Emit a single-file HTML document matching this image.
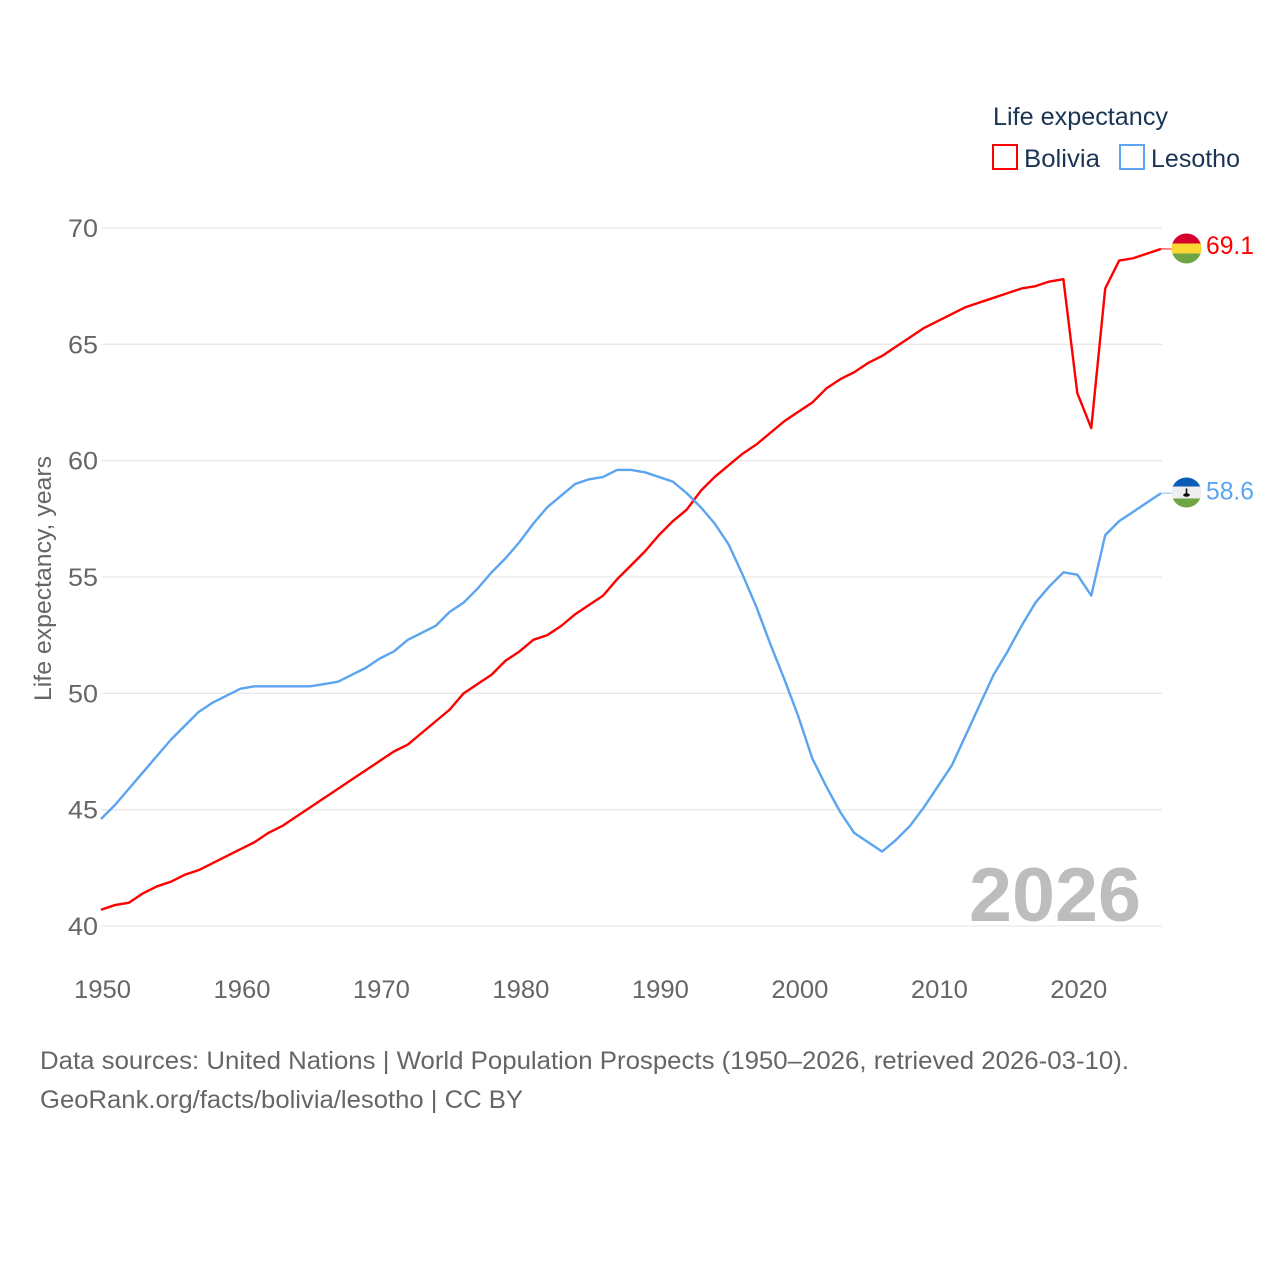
<!DOCTYPE html>
<html lang="en">
<head>
<meta charset="utf-8">
<title>Life expectancy: Bolivia and Lesotho</title>
<style>
html,body{margin:0;padding:0;background:#fff}
svg{display:block}
text{font-family:"Liberation Sans",sans-serif}
</style>
</head>
<body>
<svg id="chart" xmlns="http://www.w3.org/2000/svg" width="1280" height="1280" viewBox="0 0 1280 1280">
  <g id="grid"></g>
  <g id="yticks"></g>
  <g id="xticks"></g>
  <text transform="translate(51 701) rotate(-90)" font-size="24" fill="#666" textLength="245" lengthAdjust="spacingAndGlyphs">Life expectancy, years</text>
  <text x="969" y="921" font-size="76" font-weight="700" fill="#bdbdbd" textLength="172" lengthAdjust="spacingAndGlyphs">2026</text>
  <g id="series"></g>

  <g>
    <text x="993" y="125" font-size="25" fill="#1a3553" textLength="175" lengthAdjust="spacingAndGlyphs">Life expectancy</text>
    <g>
      <rect x="993" y="145" width="24" height="24" fill="#fff" stroke="#ff0000" stroke-width="2"/>
      <text x="1024" y="167" font-size="25" fill="#1a3553" textLength="76" lengthAdjust="spacingAndGlyphs">Bolivia</text>
    </g>
    <g>
      <rect x="1120" y="145" width="24" height="24" fill="#fff" stroke="#5ba4f0" stroke-width="2"/>
      <text x="1151" y="167" font-size="25" fill="#1a3553" textLength="89" lengthAdjust="spacingAndGlyphs">Lesotho</text>
    </g>
  </g>

  <defs>
    <clipPath id="flag-clip-bo"><circle cx="1186.5" cy="248.5" r="15"/></clipPath>
    <clipPath id="flag-clip-ls"><circle cx="1186.5" cy="492.5" r="15"/></clipPath>
  </defs>
  <g id="flag-bolivia" clip-path="url(#flag-clip-bo)">
    <rect x="1171" y="233" width="31" height="11" fill="#d5002b"/>
    <rect x="1171" y="243.5" width="31" height="10" fill="#fdd835"/>
    <rect x="1171" y="253.5" width="31" height="11" fill="#6fa544"/>
  </g>
  <g id="flag-lesotho" clip-path="url(#flag-clip-ls)">
    <rect x="1171" y="477" width="31" height="10" fill="#0b5cb5"/>
    <rect x="1171" y="486.5" width="31" height="12" fill="#eeeeee"/>
    <rect x="1171" y="498.5" width="31" height="10" fill="#6fa544"/>
    <rect x="1185.7" y="488.5" width="1.6" height="6" fill="#111"/>
    <ellipse cx="1186.5" cy="495" rx="3.3" ry="1.8" fill="#111"/>
  </g>
  <text x="1206" y="254" font-size="25" fill="#ff0000" textLength="48" lengthAdjust="spacingAndGlyphs">69.1</text>
  <text x="1206" y="499.5" font-size="25" fill="#5ba4f0" textLength="48" lengthAdjust="spacingAndGlyphs">58.6</text>

  <g>
    <text x="40" y="1069" font-size="25" fill="#666" textLength="1089" lengthAdjust="spacingAndGlyphs">Data sources: United Nations | World Population Prospects (1950–2026, retrieved 2026-03-10).</text>
    <text x="40" y="1108" font-size="25" fill="#666" textLength="483" lengthAdjust="spacingAndGlyphs">GeoRank.org/facts/bolivia/lesotho | CC BY</text>
  </g>
</svg>
<script>
var startYear = 1950;
var yTickValues = [40, 45, 50, 55, 60, 65, 70];
var xTickValues = [1950, 1960, 1970, 1980, 1990, 2000, 2010, 2020];
var boliviaValues = [40.7,40.9,41.0,41.4,41.7,41.9,42.2,42.4,42.7,43.0,43.3,43.6,44.0,44.3,44.7,45.1,45.5,45.9,46.3,46.7,47.1,47.5,47.8,48.3,48.8,49.3,50.0,50.4,50.8,51.4,51.8,52.3,52.5,52.9,53.4,53.8,54.2,54.9,55.5,56.1,56.8,57.4,57.9,58.7,59.3,59.8,60.3,60.7,61.2,61.7,62.1,62.5,63.1,63.5,63.8,64.2,64.5,64.9,65.3,65.7,66.0,66.3,66.6,66.8,67.0,67.2,67.4,67.5,67.7,67.8,62.9,61.4,67.4,68.6,68.7,68.9,69.1];
var lesothoValues = [44.6,45.2,45.9,46.6,47.3,48.0,48.6,49.2,49.6,49.9,50.2,50.3,50.3,50.3,50.3,50.3,50.4,50.5,50.8,51.1,51.5,51.8,52.3,52.6,52.9,53.5,53.9,54.5,55.2,55.8,56.5,57.3,58.0,58.5,59.0,59.2,59.3,59.6,59.6,59.5,59.3,59.1,58.6,58.0,57.3,56.4,55.1,53.7,52.1,50.6,49.0,47.2,46.0,44.9,44.0,43.6,43.2,43.7,44.3,45.1,46.0,46.9,48.2,49.5,50.8,51.8,52.9,53.9,54.6,55.2,55.1,54.2,56.8,57.4,57.8,58.2,58.6];

var NS = 'http://www.w3.org/2000/svg';
function xScale(year) { return 101 + (year - 1950) * (1161 - 101) / 76; }
function yScale(v) { return 926 - (v - 40) * (926 - 228) / 30; }

function make(tag, attrs, parent) {
  var el = document.createElementNS(NS, tag);
  for (var k in attrs) el.setAttribute(k, attrs[k]);
  parent.appendChild(el);
  return el;
}

var gridGroup = document.getElementById('grid');
var yGroup = document.getElementById('yticks');
var xGroup = document.getElementById('xticks');
var seriesGroup = document.getElementById('series');

yTickValues.forEach(function (v) {
  var line = make('line', {x1: 101.5, x2: 1162, y1: yScale(v), y2: yScale(v), stroke: '#e9e9e9', 'stroke-width': 1.3}, gridGroup);
  
  
  var t = make('text', {x: 68, y: yScale(v) + 9, 'font-size': 25, fill: '#666', textLength: 30, lengthAdjust: 'spacingAndGlyphs'}, yGroup);
  
  
  t.textContent = v;
});

xTickValues.forEach(function (y) {
  var t = make('text', {x: xScale(y) + 1.5, y: 998, 'font-size': 25, fill: '#666', 'text-anchor': 'middle', textLength: 57, lengthAdjust: 'spacingAndGlyphs'}, xGroup);
  
  
  t.textContent = y;
});

function pathFor(values) {
  return values.map(function (v, i) {
    return (i ? 'L' : 'M') + xScale(startYear + i).toFixed(2) + ' ' + yScale(v).toFixed(2);
  }).join(' ');
}

function lastPoint(values) {
  return yScale(values[values.length - 1]);
}

var boliviaConnector = make('line', {x1: 1161, x2: 1172, y1: lastPoint(boliviaValues), y2: lastPoint(boliviaValues), stroke: '#ff0000', 'stroke-opacity': 0.6, 'stroke-width': 1.5}, seriesGroup);



var lesothoConnector = make('line', {x1: 1161, x2: 1172, y1: lastPoint(lesothoValues), y2: lastPoint(lesothoValues), stroke: '#5ba4f0', 'stroke-opacity': 0.5, 'stroke-width': 1.5}, seriesGroup);



var boliviaLine = make('path', {d: pathFor(boliviaValues), fill: 'none', stroke: '#ff0000', 'stroke-width': 2.4, 'stroke-linejoin': 'round'}, seriesGroup);



var lesothoLine = make('path', {d: pathFor(lesothoValues), fill: 'none', stroke: '#5ba4f0', 'stroke-width': 2.4, 'stroke-linejoin': 'round'}, seriesGroup);


</script>
</body>
</html>
